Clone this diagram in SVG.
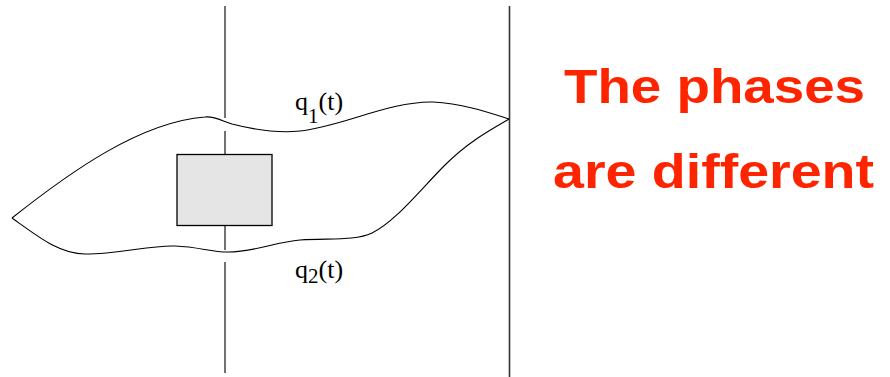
<svg xmlns="http://www.w3.org/2000/svg" width="890" height="377" viewBox="0 0 890 377">
<style>
.ln{fill:none;stroke:#000;stroke-width:1.1}
.lab{font-family:"Liberation Serif","Times New Roman",serif;font-size:26px;fill:#000}
.sub{font-size:21px}
.big{font-family:"Liberation Sans",Arial,sans-serif;font-weight:bold;font-size:48px;fill:#ff2400}
</style>
<rect width="890" height="377" fill="#fff"/>
<g id="axes">
<path class="ln" d="M225,6V118M225,131V154M225,226V250M225,262V373"/>
<path class="ln" style="stroke:#333;stroke-width:1.6" d="M509.5,6V377"/>
</g>
<g id="curves">
<path id="q1curve" class="ln" d="M12,218 C70,172 140,122 205,117 C215,116 222,121 232,124 C255,130 280,133 300,131 C340,127 390,101 433,102 C465,104 490,113 509,119"/>
<path id="q2curve" class="ln" d="M12,218 C40,238 60,254 85,254 C120,254 150,245 175,246 C200,247 210,252 228,252 C255,252 275,242 300,240 C330,238 355,241 372,233 C395,222 420,190 445,165 C468,142 490,130 509,119"/>
</g>
<g id="box">
<rect x="177" y="154.5" width="95" height="71" fill="#e5e5e5" stroke="#000" stroke-width="1.3"/>
</g>
<g id="label-q1">
<text class="lab" x="295" y="110">q<tspan class="sub" dy="13">1</tspan><tspan dy="-13">(t)</tspan></text>
</g>
<g id="label-q2">
<text class="lab" x="295" y="278">q<tspan class="sub" dy="5">2</tspan><tspan dy="-5">(t)</tspan></text>
</g>
<g id="caption">
<text class="big" x="564" y="103" textLength="301" lengthAdjust="spacingAndGlyphs">The phases</text>
<text class="big" x="553" y="188" textLength="321" lengthAdjust="spacingAndGlyphs">are different</text>
</g>
</svg>
